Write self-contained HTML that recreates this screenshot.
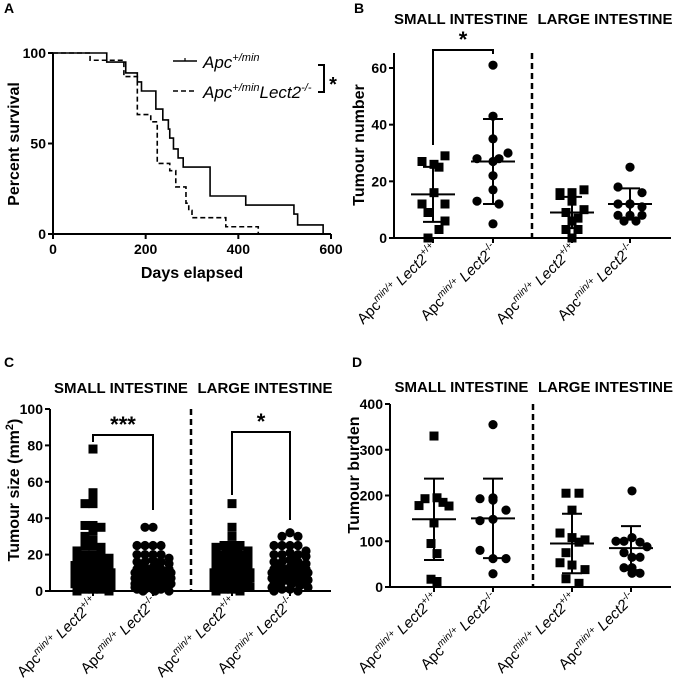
<!DOCTYPE html>
<html><head><meta charset="utf-8"><style>
html,body{margin:0;padding:0;background:#fff}
svg{display:block;font-family:"Liberation Sans",Arial,sans-serif}
.t{font-weight:bold;font-size:14px}
.h{font-weight:bold;font-size:15px}
.pl{font-weight:bold;font-size:14px}
</style></head><body>
<svg id="fig" width="675" height="679" viewBox="0 0 675 679" xmlns="http://www.w3.org/2000/svg"></svg>
<script>
// ---- Panel A data (days, percent) ----
const survDaysWT = [0,116,157,182,191,222,237,249,252,260,270,281,339,339,416,520,528,583];
const survPctWT  = [100,95,89,84,79,69,63,58,53,47,42,37,32,21,16,11,5,0];
const survDaysKO = [0,80,153,182,211,225,252,265,287,293,300,373,443];
const survPctKO  = [100,96,87,66,62,39,35,26,17,13,9,4,0];
const survXTicks = [0,200,400,600];
const survYTicks = [0,50,100];
// ---- Panel B data ----
const groupLabels = ["Lect2+/+","Lect2-/-","Lect2+/+","Lect2-/-"];
const numSI_WT = [27,29,26,25,16,12,12,9,6,3,0];
const numSI_KO = [61,43,35,30,28,28,27,22,17,13,12,5];
const numLI_WT = [16,16,17,15,13,10,9,7,6,3,3,0];
const numLI_KO = [25,18,16,12,12,12,11,8,8,8,6,6];
const numMean = [15.4,27,9,12];
const numSD = [9.7,15,5.5,5.5];
const numTicks = [0,20,40,60];
// ---- Panel C data ----
const sizeSI_WT = [78,54,50,48,48,36,36,35,33,30,28,26,25,25,24,22,20,20,20,18,18,17,16,16,16,16,15,15,14,14,13,13,12,12,12,12,11,11,10,10,10,10,9,9,9,8,8,8,8,7,7,7,6,6,6,6,5,5,5,5,4,4,4,4,4,3,3,3,3,2,2,2,1,1,1,0,0];
const sizeSI_KO = [35,35,25,25,25,25,20,20,20,20,18,17,16,16,16,15,14,14,13,13,12,12,12,12,11,11,10,10,10,9,9,9,8,8,8,8,7,7,7,7,6,6,6,6,6,5,5,5,5,5,4,4,4,4,4,3,3,3,3,3,2,2,2,2,1,1,1,1,0,0,0];
const sizeLI_WT = [48,35,30,25,25,25,24,22,22,21,20,20,20,19,18,18,17,16,16,16,15,15,14,14,13,13,12,12,12,12,11,11,10,10,10,10,9,9,9,9,8,8,8,8,7,7,7,6,6,6,6,5,5,5,4,4,4,3,3,3,2,2,1,1,0,0];
const sizeLI_KO = [32,30,30,25,25,25,25,22,21,20,20,20,19,18,17,16,16,16,15,15,14,14,13,13,12,12,12,12,11,11,10,10,10,10,9,9,9,8,8,8,7,7,7,6,6,6,5,5,5,4,4,4,3,3,2,2,1,1,0,0];
const sizeMean = [9,6.5,9,7];
const sizeSD = [8.5,11,13,11];
const sizeTicks = [0,20,40,60,80,100];
// ---- Panel D data ----
const burSI_WT = [330,193,195,185,178,177,140,95,73,17,12];
const burSI_KO = [355,193,195,190,168,145,148,80,62,62,29];
const burLI_WT = [205,205,168,118,108,103,98,75,53,48,38,18,8];
const burLI_KO = [210,100,100,108,98,88,75,65,65,42,42,30,30];
const burMean = [148,150,95,85];
const burSD = [89,87,65,48];
const burTicks = [0,100,200,300,400];

const NS="http://www.w3.org/2000/svg";
const svg=document.getElementById('fig');
function mk(tag,attrs,parent){const e=document.createElementNS(NS,tag);for(const k in attrs)e.setAttribute(k,attrs[k]);(parent||svg).appendChild(e);return e;}
function txt(s,x,y,cls,anchor,parent){const t=mk('text',{x:x,y:y,class:cls,'text-anchor':anchor||'middle'},parent);t.textContent=s;return t;}

// ================= Panel A =================
(function(){
  const g=mk('g',{});
  
  
  const x0=53,x1=331,y0=234,y1=53;
  const sx=d=>x0+(d/600)*(x1-x0), sy=p=>y0-(p/100)*(y0-y1);
  const l=txt('A',4,13,'pl','start',g);
  
  
  mk('line',{x1:x0,y1:y1,x2:x0,y2:y0,stroke:'#000','stroke-width':2},g);
  mk('line',{x1:x0,y1:y0,x2:x1,y2:y0,stroke:'#000','stroke-width':2},g);
  survYTicks.forEach(v=>{mk('line',{x1:x0-5,y1:sy(v),x2:x0,y2:sy(v),stroke:'#000','stroke-width':2},g);
    const t=txt(v,x0-7,sy(v)+5,'t','end',g);
    
    });
  survXTicks.forEach(v=>{mk('line',{x1:sx(v),y1:y0,x2:sx(v),y2:y0+5,stroke:'#000','stroke-width':2},g);
    const t=txt(v,sx(v),y0+20,'t','middle',g);
    
    });
  const xt=txt('Days elapsed',192,278,'t','middle',g);
  xt.setAttribute('style','font-size:16px');
  
  
  const yt=txt('Percent survival',0,0,'t','middle',g);
  yt.setAttribute('transform','translate(19,144) rotate(-90)');
  yt.setAttribute('style','font-size:16px');
  
  
  function step(days,pct,dash,name){
    let d='M'+sx(days[0])+','+sy(pct[0]);
    for(let i=1;i<days.length;i++){d+=' H'+sx(days[i])+' V'+sy(pct[i]);}
    const p=mk('path',{d:d,fill:'none',stroke:'#000','stroke-width':1.6},g);
    if(dash)p.setAttribute('stroke-dasharray','5,3');
    
    
  }
  step(survDaysWT,survPctWT,false,'survival-curve-wt');
  step(survDaysKO,survPctKO,true,'survival-curve-ko');
  const lg=mk('g',{},g);
  
  
  mk('line',{x1:173,y1:61,x2:197,y2:61,stroke:'#000','stroke-width':1.6},lg);
  mk('line',{x1:185,y1:58,x2:185,y2:61,stroke:'#000','stroke-width':1.2},lg);
  mk('line',{x1:173,y1:91,x2:197,y2:91,stroke:'#000','stroke-width':1.6,'stroke-dasharray':'5,3'},lg);
  const a1=mk('text',{x:203,y:68,style:'font-size:17px;font-style:italic'},lg);
  a1.innerHTML='Apc<tspan dy="-7" style="font-size:11px">+/min</tspan>';
  const a2=mk('text',{x:203,y:98,style:'font-size:17px;font-style:italic'},lg);
  a2.innerHTML='Apc<tspan dy="-7" style="font-size:11px">+/min</tspan><tspan dy="7">Lect2</tspan><tspan dy="-7" style="font-size:11px">-/-</tspan>';
  mk('path',{d:'M318,65 H324 V92 H318',fill:'none',stroke:'#000','stroke-width':2},g);
  txt('*',333,91,'t','middle',g).setAttribute('style','font-size:20px');
})();

// ================= scatter panels =================
function scatterPanel(o){
  const g=mk('g',{});
  
  
  const sy=v=>o.y0-(v/o.max)*(o.y0-o.yTop);
  const pl=txt(o.letter,o.lx,o.ly,'pl','start',g);
  
  
  const h1=txt('SMALL INTESTINE',o.c[0]+(o.c[1]-o.c[0])/2-2,o.ht,'h','middle',g);
  
  
  const h2=txt('LARGE INTESTINE',o.c[2]+(o.c[3]-o.c[2])/2+4,o.ht,'h','middle',g);
  
  
  mk('line',{x1:o.x0,y1:o.yAxTop,x2:o.x0,y2:o.y0,stroke:'#000','stroke-width':2},g);
  mk('line',{x1:o.x0,y1:o.y0,x2:o.x1,y2:o.y0,stroke:'#000','stroke-width':2},g);
  mk('line',{x1:o.div,y1:o.yAxTop,x2:o.div,y2:o.y0,stroke:'#000','stroke-width':2.5,'stroke-dasharray':'6,4'},g);
  o.ticks.forEach(v=>{mk('line',{x1:o.x0-5,y1:sy(v),x2:o.x0,y2:sy(v),stroke:'#000','stroke-width':2},g);
    const t=txt(v,o.x0-7,sy(v)+5,'t','end',g);
    
    });
  const yt=mk('text',{transform:'translate('+o.ytx+','+o.yty+') rotate(-90)','text-anchor':'middle',class:'t',style:'font-size:16px'},g);
  yt.innerHTML=o.ytitle;
  
  
  o.c.forEach((cx,i)=>{
    mk('line',{x1:cx,y1:o.y0,x2:cx,y2:o.y0+5,stroke:'#000','stroke-width':2},g);
    const t=mk('text',{transform:'translate('+(cx+5)+','+(o.y0+12)+') rotate(-45)','text-anchor':'end',style:'font-size:15px'},g);
    t.innerHTML='Apc<tspan dy="-6" style="font-size:10px;font-style:italic">min/+</tspan><tspan dy="6" style="font-style:italic"> '+groupLabels[i].slice(0,5)+'</tspan><tspan dy="-6" style="font-size:10px">'+groupLabels[i].slice(5)+'</tspan>';
    
    
    const vals=o.data[i]; const sq=(i%2===0);
    const bins={};
    const cols=[0,-8,8,-16,16];
    vals.forEach((v,j)=>{
      let x;
      if(o.swarm){const b=Math.round(v/o.bin);const k=bins[b]||0;bins[b]=k+1;x=cx+cols[k%5]+(k>=5?(k%2?2:-2):0);}
      else{x=cx+o.offs[i][j%o.offs[i].length];}
      const y=sy(v);let m;
      if(sq)m=mk('rect',{x:x-4.5,y:y-4.5,width:9,height:9,fill:'#000'},g);
      else m=mk('circle',{cx:x,cy:y,r:4.6,fill:'#000'},g);
      
      
    });
    const mn=o.mean[i],sd=o.sd[i];
    const eb=mk('g',{},g);
    
    
    mk('line',{x1:cx-22,y1:sy(mn),x2:cx+22,y2:sy(mn),stroke:'#000','stroke-width':2},eb);
    mk('line',{x1:cx,y1:sy(mn+sd),x2:cx,y2:sy(Math.max(0,mn-sd)),stroke:'#000','stroke-width':2},eb);
    mk('line',{x1:cx-10,y1:sy(mn+sd),x2:cx+10,y2:sy(mn+sd),stroke:'#000','stroke-width':2},eb);
    mk('line',{x1:cx-10,y1:sy(Math.max(0,mn-sd)),x2:cx+10,y2:sy(Math.max(0,mn-sd)),stroke:'#000','stroke-width':2},eb);
  });
  (o.brackets||[]).forEach(b=>{
    const bg=mk('g',{},g);
    
    
    mk('path',{d:'M'+o.c[b.a]+','+b.ya+' V'+b.top+' H'+o.c[b.b]+' V'+b.yb,fill:'none',stroke:'#000','stroke-width':2},bg);
    txt(b.s,(o.c[b.a]+o.c[b.b])/2,b.top-3,'t','middle',bg).setAttribute('style','font-size:22px');
  });
}
const offsB=[[-11,12,1,6,1,-11,12,-5,12,6,-5],[0,0,0,15,-16,6,0,0,0,-16,6,0],[-12,0,12,-12,0,12,-6,6,0,-6,6,0],[0,-12,12,0,-12,0,12,-12,0,12,-6,6]];
scatterPanel({name:'tumour-number-panel',letter:'B',lx:354,ly:13,ht:24,x0:394,x1:671,y0:238,yTop:68,max:60,yAxTop:53,div:532,
  c:[433,493,572,630],ticks:numTicks,ytitle:'Tumour number',ytx:364,yty:145,data:[numSI_WT,numSI_KO,numLI_WT,numLI_KO],
  mean:numMean,sd:numSD,offs:offsB,brackets:[{a:0,b:1,ya:145,top:50,yb:54,s:'*'}]});
scatterPanel({name:'tumour-size-panel',letter:'C',lx:4,ly:367,ht:393,x0:50,x1:331,y0:591,yTop:409,max:100,yAxTop:409,div:191,
  c:[93,153,232,290],ticks:sizeTicks,ytitle:'Tumour size (mm<tspan dy="-6" style="font-size:11px">2</tspan><tspan dy="6">)</tspan>',ytx:19,yty:490,
  data:[sizeSI_WT,sizeSI_KO,sizeLI_WT,sizeLI_KO],mean:sizeMean,sd:sizeSD,swarm:true,bin:4,
  brackets:[{a:0,b:1,ya:442,top:435,yb:510,s:'***'},{a:2,b:3,ya:495,top:432,yb:520,s:'*'}]});
const offsD=[[0,-9,3,9,-15,15,0,-3,3,-3,3],[0,-13,0,0,13,-13,0,-13,0,13,0],[-6,7,0,-12,0,13,7,-6,-12,0,13,-6,7],[1,-15,-7,1,9,16,-7,1,9,-7,1,1,9]];
scatterPanel({name:'tumour-burden-panel',letter:'D',lx:352,ly:367,ht:392,x0:390,x1:671,y0:587,yTop:404,max:400,yAxTop:404,div:533,
  c:[434,493,572,631],ticks:burTicks,ytitle:'Tumour burden',ytx:359,yty:475,data:[burSI_WT,burSI_KO,burLI_WT,burLI_KO],
  mean:burMean,sd:burSD,offs:offsD});
</script>
</body></html>
